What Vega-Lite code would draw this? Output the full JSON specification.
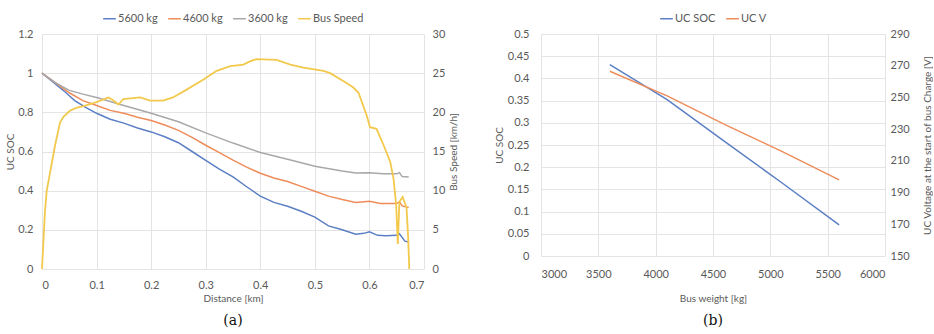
{
  "$schema": "https://vega.github.io/schema/vega-lite/v6.json",
  "background": "white",
  "padding": {"left": 5, "right": 0, "top": 11, "bottom": 0},
  "config": {
    "font": "Lato",
    "view": {"stroke": null},
    "axis": {
      "labelColor": "#595959", "titleColor": "#595959", "labelFontSize": 11, "titleFontSize": 10,
      "titleFontWeight": "normal", "gridColor": "#E4E4E4", "domain": false, "ticks": false, "labelFont": "Lato", "titleFont": "Lato"
    },
    "legend": {
      "labelColor": "#595959", "labelFontSize": 11, "labelFont": "Lato", "symbolType": "stroke",
      "symbolSize": 160, "symbolStrokeWidth": 1.5, "columnPadding": 7, "labelOffset": 1,
      "layout": {"top": {"anchor": "middle"}}
    },
    "title": {"font": "DejaVu Serif", "fontSize": 14, "fontWeight": "normal", "color": "#111111"}
  },
  "datasets": {
    "a": [
      {"d": 0, "s": "5600 kg", "v": 1.0}, {"d": 0.02, "s": "5600 kg", "v": 0.955}, {"d": 0.04, "s": "5600 kg", "v": 0.91},
      {"d": 0.05, "s": "5600 kg", "v": 0.885}, {"d": 0.06, "s": "5600 kg", "v": 0.86}, {"d": 0.08, "s": "5600 kg", "v": 0.825},
      {"d": 0.1, "s": "5600 kg", "v": 0.795}, {"d": 0.125, "s": "5600 kg", "v": 0.765}, {"d": 0.15, "s": "5600 kg", "v": 0.745},
      {"d": 0.175, "s": "5600 kg", "v": 0.72}, {"d": 0.2, "s": "5600 kg", "v": 0.7}, {"d": 0.225, "s": "5600 kg", "v": 0.675},
      {"d": 0.25, "s": "5600 kg", "v": 0.645}, {"d": 0.275, "s": "5600 kg", "v": 0.6}, {"d": 0.3, "s": "5600 kg", "v": 0.555},
      {"d": 0.325, "s": "5600 kg", "v": 0.51}, {"d": 0.35, "s": "5600 kg", "v": 0.47}, {"d": 0.375, "s": "5600 kg", "v": 0.42},
      {"d": 0.4, "s": "5600 kg", "v": 0.372}, {"d": 0.425, "s": "5600 kg", "v": 0.34}, {"d": 0.45, "s": "5600 kg", "v": 0.32},
      {"d": 0.475, "s": "5600 kg", "v": 0.295}, {"d": 0.5, "s": "5600 kg", "v": 0.265}, {"d": 0.525, "s": "5600 kg", "v": 0.22},
      {"d": 0.55, "s": "5600 kg", "v": 0.2}, {"d": 0.575, "s": "5600 kg", "v": 0.178}, {"d": 0.59, "s": "5600 kg", "v": 0.182},
      {"d": 0.6, "s": "5600 kg", "v": 0.19}, {"d": 0.615, "s": "5600 kg", "v": 0.172}, {"d": 0.63, "s": "5600 kg", "v": 0.17},
      {"d": 0.65, "s": "5600 kg", "v": 0.172}, {"d": 0.655, "s": "5600 kg", "v": 0.18}, {"d": 0.665, "s": "5600 kg", "v": 0.142},
      {"d": 0.672, "s": "5600 kg", "v": 0.138},

      {"d": 0, "s": "4600 kg", "v": 1.0}, {"d": 0.025, "s": "4600 kg", "v": 0.95}, {"d": 0.05, "s": "4600 kg", "v": 0.9},
      {"d": 0.075, "s": "4600 kg", "v": 0.86}, {"d": 0.1, "s": "4600 kg", "v": 0.835}, {"d": 0.125, "s": "4600 kg", "v": 0.81},
      {"d": 0.15, "s": "4600 kg", "v": 0.795}, {"d": 0.175, "s": "4600 kg", "v": 0.775}, {"d": 0.2, "s": "4600 kg", "v": 0.758},
      {"d": 0.225, "s": "4600 kg", "v": 0.735}, {"d": 0.25, "s": "4600 kg", "v": 0.708}, {"d": 0.275, "s": "4600 kg", "v": 0.672},
      {"d": 0.3, "s": "4600 kg", "v": 0.632}, {"d": 0.325, "s": "4600 kg", "v": 0.594}, {"d": 0.35, "s": "4600 kg", "v": 0.556},
      {"d": 0.375, "s": "4600 kg", "v": 0.52}, {"d": 0.4, "s": "4600 kg", "v": 0.489}, {"d": 0.425, "s": "4600 kg", "v": 0.465},
      {"d": 0.45, "s": "4600 kg", "v": 0.447}, {"d": 0.475, "s": "4600 kg", "v": 0.422}, {"d": 0.5, "s": "4600 kg", "v": 0.397},
      {"d": 0.525, "s": "4600 kg", "v": 0.372}, {"d": 0.55, "s": "4600 kg", "v": 0.355}, {"d": 0.575, "s": "4600 kg", "v": 0.34},
      {"d": 0.6, "s": "4600 kg", "v": 0.346}, {"d": 0.62, "s": "4600 kg", "v": 0.334}, {"d": 0.65, "s": "4600 kg", "v": 0.334},
      {"d": 0.655, "s": "4600 kg", "v": 0.343}, {"d": 0.66, "s": "4600 kg", "v": 0.322}, {"d": 0.672, "s": "4600 kg", "v": 0.314},

      {"d": 0, "s": "3600 kg", "v": 1.0}, {"d": 0.025, "s": "3600 kg", "v": 0.95}, {"d": 0.05, "s": "3600 kg", "v": 0.912},
      {"d": 0.075, "s": "3600 kg", "v": 0.893}, {"d": 0.1, "s": "3600 kg", "v": 0.876}, {"d": 0.15, "s": "3600 kg", "v": 0.835},
      {"d": 0.2, "s": "3600 kg", "v": 0.795}, {"d": 0.25, "s": "3600 kg", "v": 0.752}, {"d": 0.3, "s": "3600 kg", "v": 0.695},
      {"d": 0.35, "s": "3600 kg", "v": 0.643}, {"d": 0.4, "s": "3600 kg", "v": 0.595}, {"d": 0.45, "s": "3600 kg", "v": 0.56},
      {"d": 0.5, "s": "3600 kg", "v": 0.525}, {"d": 0.55, "s": "3600 kg", "v": 0.5}, {"d": 0.575, "s": "3600 kg", "v": 0.49},
      {"d": 0.6, "s": "3600 kg", "v": 0.492}, {"d": 0.625, "s": "3600 kg", "v": 0.486}, {"d": 0.65, "s": "3600 kg", "v": 0.486},
      {"d": 0.655, "s": "3600 kg", "v": 0.492}, {"d": 0.66, "s": "3600 kg", "v": 0.472}, {"d": 0.672, "s": "3600 kg", "v": 0.47},

      {"d": 0, "s": "Bus Speed", "v": 0}, {"d": 0.0055, "s": "Bus Speed", "v": 7.4}, {"d": 0.0085, "s": "Bus Speed", "v": 9.9},
      {"d": 0.015, "s": "Bus Speed", "v": 12.4}, {"d": 0.024, "s": "Bus Speed", "v": 15.8}, {"d": 0.033, "s": "Bus Speed", "v": 18.7},
      {"d": 0.039, "s": "Bus Speed", "v": 19.4}, {"d": 0.051, "s": "Bus Speed", "v": 20.2}, {"d": 0.064, "s": "Bus Speed", "v": 20.6},
      {"d": 0.076, "s": "Bus Speed", "v": 20.8}, {"d": 0.1, "s": "Bus Speed", "v": 21.3}, {"d": 0.122, "s": "Bus Speed", "v": 21.9},
      {"d": 0.131, "s": "Bus Speed", "v": 21.5}, {"d": 0.14, "s": "Bus Speed", "v": 21.0}, {"d": 0.149, "s": "Bus Speed", "v": 21.7},
      {"d": 0.18, "s": "Bus Speed", "v": 21.9}, {"d": 0.198, "s": "Bus Speed", "v": 21.5}, {"d": 0.222, "s": "Bus Speed", "v": 21.5},
      {"d": 0.24, "s": "Bus Speed", "v": 21.9}, {"d": 0.265, "s": "Bus Speed", "v": 22.9}, {"d": 0.296, "s": "Bus Speed", "v": 24.2},
      {"d": 0.32, "s": "Bus Speed", "v": 25.3}, {"d": 0.345, "s": "Bus Speed", "v": 25.9}, {"d": 0.369, "s": "Bus Speed", "v": 26.1},
      {"d": 0.381, "s": "Bus Speed", "v": 26.5}, {"d": 0.393, "s": "Bus Speed", "v": 26.8}, {"d": 0.43, "s": "Bus Speed", "v": 26.7},
      {"d": 0.455, "s": "Bus Speed", "v": 26.1}, {"d": 0.479, "s": "Bus Speed", "v": 25.7}, {"d": 0.516, "s": "Bus Speed", "v": 25.3},
      {"d": 0.528, "s": "Bus Speed", "v": 25.0}, {"d": 0.552, "s": "Bus Speed", "v": 24.0}, {"d": 0.57, "s": "Bus Speed", "v": 23.2},
      {"d": 0.58, "s": "Bus Speed", "v": 22.5}, {"d": 0.595, "s": "Bus Speed", "v": 19.6}, {"d": 0.601, "s": "Bus Speed", "v": 18.1},
      {"d": 0.613, "s": "Bus Speed", "v": 17.9}, {"d": 0.626, "s": "Bus Speed", "v": 15.8}, {"d": 0.638, "s": "Bus Speed", "v": 13.7},
      {"d": 0.644, "s": "Bus Speed", "v": 11.6}, {"d": 0.649, "s": "Bus Speed", "v": 8.2}, {"d": 0.652, "s": "Bus Speed", "v": 3.2},
      {"d": 0.655, "s": "Bus Speed", "v": 8.6}, {"d": 0.661, "s": "Bus Speed", "v": 9.2}, {"d": 0.665, "s": "Bus Speed", "v": 8.4},
      {"d": 0.668, "s": "Bus Speed", "v": 7.8}, {"d": 0.671, "s": "Bus Speed", "v": 4.0}, {"d": 0.673, "s": "Bus Speed", "v": 0}
    ],
    "b": [
      {"w": 3600, "s": "UC SOC", "v": 0.431}, {"w": 4100, "s": "UC SOC", "v": 0.352}, {"w": 4600, "s": "UC SOC", "v": 0.258},
      {"w": 5100, "s": "UC SOC", "v": 0.165}, {"w": 5600, "s": "UC SOC", "v": 0.07},
      {"w": 3600, "s": "UC V", "v": 266.5}, {"w": 4100, "s": "UC V", "v": 251}, {"w": 4600, "s": "UC V", "v": 233},
      {"w": 5100, "s": "UC V", "v": 216}, {"w": 5600, "s": "UC V", "v": 198}
    ]
  },
  "resolve": {"scale": {"color": "independent"}, "legend": {"color": "independent"}},
  "spacing": 35,
  "hconcat": [
    {
      "width": 382,
      "height": 235,
      "title": {"text": "(a)", "orient": "bottom", "offset": 11},
      "data": {"name": "a"},
      "layer": [
        {
          "transform": [{"filter": "datum.s !== 'Bus Speed'"}],
          "mark": {"type": "line", "strokeWidth": 1.5},
          "encoding": {
            "x": {"field": "d", "type": "quantitative", "scale": {"domain": [0, 0.7], "nice": false},
              "axis": {"title": "Distance [km]", "values": [0, 0.1, 0.2, 0.3, 0.4, 0.5, 0.6, 0.7], "labelExpr": "'' + datum.value", "labelPadding": 10, "titlePadding": 3}},
            "y": {"field": "v", "type": "quantitative", "scale": {"domain": [0, 1.2], "nice": false},
              "axis": {"title": "UC SOC", "values": [0, 0.2, 0.4, 0.6, 0.8, 1, 1.2], "labelExpr": "'' + datum.value", "labelPadding": 9, "titlePadding": 2}},
            "color": {"field": "s", "type": "nominal",
              "scale": {"domain": ["5600 kg", "4600 kg", "3600 kg", "Bus Speed"], "range": ["#5B7FC4", "#EE8C5A", "#A8A8A8", "#F2C94C"]},
              "legend": {"orient": "top", "direction": "horizontal", "title": null, "offset": 10}}
          }
        },
        {
          "transform": [{"filter": "datum.s === 'Bus Speed'"}],
          "mark": {"type": "line", "strokeWidth": 1.8},
          "encoding": {
            "x": {"field": "d", "type": "quantitative"},
            "y": {"field": "v", "type": "quantitative", "scale": {"domain": [0, 30], "nice": false},
              "axis": {"orient": "right", "title": "Bus Speed [km/h]", "titleAngle": -90, "titleBaseline": "top", "values": [0, 5, 10, 15, 20, 25, 30], "grid": false, "labelPadding": 8, "titlePadding": 4}},
            "color": {"field": "s", "type": "nominal"}
          }
        }
      ],
      "resolve": {"scale": {"y": "independent"}}
    },
    {
      "width": 344,
      "height": 222,
      "title": {"text": "(b)", "orient": "bottom", "offset": 11},
      "data": {"name": "b"},
      "layer": [
        {
          "transform": [{"filter": "datum.s === 'UC SOC'"}],
          "mark": {"type": "line", "strokeWidth": 1.5},
          "encoding": {
            "x": {"field": "w", "type": "quantitative", "scale": {"domain": [3000, 6000], "nice": false},
              "axis": {"title": "Bus weight [kg]", "values": [3000, 3500, 4000, 4500, 5000, 5500, 6000], "format": "d", "labelPadding": 12, "titlePadding": 14}},
            "y": {"field": "v", "type": "quantitative", "scale": {"domain": [0, 0.5], "nice": false},
              "axis": {"title": "UC SOC", "values": [0, 0.05, 0.1, 0.15, 0.2, 0.25, 0.3, 0.35, 0.4, 0.45, 0.5], "labelExpr": "'' + datum.value", "labelPadding": 12, "titlePadding": 3}},
            "color": {"field": "s", "type": "nominal",
              "scale": {"domain": ["UC SOC", "UC V"], "range": ["#5B7FC4", "#EE8C5A"]},
              "legend": {"orient": "top", "direction": "horizontal", "title": null, "offset": 10}}
          }
        },
        {
          "transform": [{"filter": "datum.s === 'UC V'"}],
          "mark": {"type": "line", "strokeWidth": 1.5},
          "encoding": {
            "x": {"field": "w", "type": "quantitative"},
            "y": {"field": "v", "type": "quantitative", "scale": {"domain": [150, 290], "nice": false},
              "axis": {"orient": "right", "title": "UC Voltage at the start of bus Charge [V]", "titleAngle": -90, "titleBaseline": "top", "values": [150, 170, 190, 210, 230, 250, 270, 290], "grid": false, "labelPadding": 5, "titlePadding": 13}},
            "color": {"field": "s", "type": "nominal"}
          }
        }
      ],
      "resolve": {"scale": {"y": "independent"}}
    }
  ]
}
